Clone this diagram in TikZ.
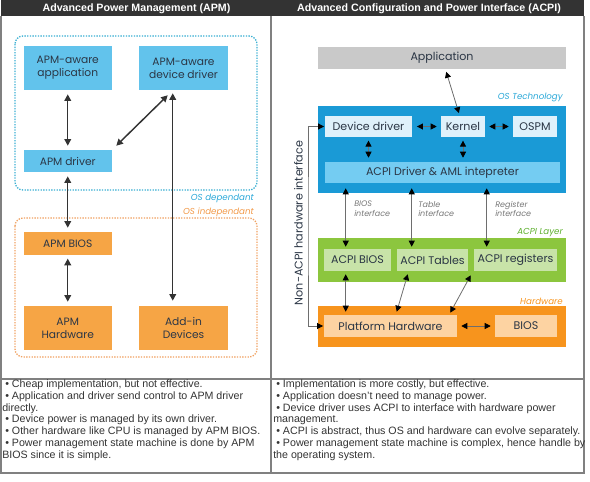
\documentclass[tikz,border=0pt]{standalone}
\usepackage{fontspec}
\setmainfont{Liberation Sans}
\newfontfamily\diag{Poppins}
\usetikzlibrary{arrows.meta}
\definecolor{hdr}{HTML}{333333}
\definecolor{tline}{HTML}{808080}
\definecolor{apmblue}{HTML}{62C3EC}
\definecolor{apmorange}{HTML}{F6A545}
\definecolor{dotcyan}{HTML}{3AAFD2}
\definecolor{dotorange}{HTML}{F0A262}
\definecolor{labcyan}{HTML}{2AA8D8}
\definecolor{laborange}{HTML}{F29A4A}
\definecolor{txtc}{HTML}{2B3645}
\definecolor{appgrey}{HTML}{C9C9C9}
\definecolor{acpiblue}{HTML}{1A9AD6}
\definecolor{ddbox}{HTML}{DFF1FB}
\definecolor{aml}{HTML}{74CCF2}
\definecolor{acpigreen}{HTML}{8CC63E}
\definecolor{greenbox}{HTML}{C8E3A8}
\definecolor{labgreen}{HTML}{5DAF2E}
\definecolor{hworange}{HTML}{F7941D}
\definecolor{hwbox}{HTML}{FDD3A2}
\definecolor{arrc}{HTML}{333333}
\definecolor{garr}{HTML}{6E6E6E}
\definecolor{bodytxt}{HTML}{333333}
\definecolor{itfgrey}{HTML}{777777}
\tikzset{
  pbox/.style n args={4}{at={({(#1+#3)/2},{(#2+#4)/2})},
    minimum width={(#3-#1)*0.75pt}, minimum height={(#4-#2)*0.75pt}},
  box/.style={inner sep=0pt, draw=none, align=center, text=txtc,
    font=\diag\fontsize{8}{9.6}\selectfont},
  abox/.style={box, font=\diag\fontsize{8.3}{9.6}\selectfont},
  region/.style={inner sep=0pt, draw=none},
  hdrtext/.style={text=white, font=\bfseries\fontsize{8}{9}\selectfont},
  apmarrow/.style={{Triangle[length=5pt,width=5pt]}-{Triangle[length=5pt,width=5pt]}, line width=1.1pt, draw=arrc},
  acpiarrow/.style={{Triangle[length=4.5pt,width=4.5pt,color=black]}-{Triangle[length=4.5pt,width=4.5pt,color=black]}, line width=0.6pt, draw=garr},
  layerlabel/.style={anchor=east, inner sep=0pt, font=\diag\itshape\fontsize{6.5}{7.5}\selectfont},
  itflabel/.style={anchor=north west, inner sep=0pt, align=left, text=itfgrey, font=\diag\itshape\fontsize{6}{7}\selectfont},
  bodyline/.style={anchor=west, inner sep=0pt, text=bodytxt, font=\fontsize{8}{9}\selectfont},
  dotframe/.style={line width=1pt, dash pattern=on 1pt off 1pt, rounded corners=6pt}
}
\begin{document}
\begin{tikzpicture}[x=0.75pt,y=-0.75pt]
\useasboundingbox (0,0) rectangle (590,482);
% table
\fill[hdr] (1,0) rectangle (584,16);
\node[hdrtext] (hl) at (136.5,8.5) {Advanced Power Management (APM)};
\node[hdrtext] (hr) at (429,8.5) {Advanced Configuration and Power Interface (ACPI)};
\draw[tline, line width=0.9pt] (1,16) -- (1,473) -- (584,473) -- (584,16);
\draw[tline, line width=0.9pt] (271,16) -- (271,473);
\draw[tline, line width=0.9pt] (1,379) -- (584,379);

% ---------------- APM ----------------
\draw[dotframe, draw=dotcyan] (15,36) rectangle (257,190);
\draw[dotframe, draw=dotorange] (15,218) rectangle (257,357);
\node[box, fill=apmblue, pbox={23.5}{46}{112}{90}] (app) {APM-aware\\application};
\node[box, fill=apmblue, pbox={139}{46}{228}{90}] (devdrv) {APM-aware\\device driver};
\node[box, fill=apmblue, pbox={23.5}{150}{112}{172}] (apmdrv) {APM driver};
\node[layerlabel, text=labcyan] (osdep) at (254,198) {OS dependant};
\node[layerlabel, text=laborange] (osind) at (254,212.5) {OS independant};
\node[box, fill=apmorange, pbox={23.5}{232}{112}{255}] (apmbios) {APM BIOS};
\node[box, fill=apmorange, pbox={23.5}{306}{112}{350}] (apmhw) {APM\\Hardware};
\node[box, fill=apmorange, pbox={139}{306}{228}{350}] (addin) {Add-in\\Devices};

\draw[apmarrow, shorten <=3pt, shorten >=3pt] (app) -- (apmdrv);
\draw[apmarrow] ([shift={(4,-4)}]apmdrv.north east) -- ([shift={(29,5)}]devdrv.south west);
\draw[apmarrow] ([shift={(34,3)}]devdrv.south west) -- ([shift={(34,-5)}]addin.north west);
\draw[apmarrow, shorten <=3pt, shorten >=3pt] (apmdrv) -- (apmbios);
\draw[apmarrow, shorten <=2.5pt, shorten >=3pt] (apmbios) -- (apmhw);

% ---------------- ACPI ----------------
\node[abox, fill=appgrey, pbox={318}{47}{566}{69}] (appl) {Application};
\node[layerlabel, text=labcyan] (ostl) at (563,97) {OS Technology};
\node[region, fill=acpiblue, pbox={318}{106}{566}{193}] (ostech) {};
\node[abox, fill=ddbox, pbox={325}{116}{412}{137}] (ddrv) {Device driver};
\node[abox, fill=ddbox, pbox={441}{116}{485}{137}] (kernel) {Kernel};
\node[abox, fill=ddbox, pbox={513}{116}{557}{137}] (ospm) {OSPM};
\node[abox, fill=aml, pbox={325}{162}{560}{183}] (acpidrv) {ACPI Driver \& AML intepreter};

\node[layerlabel, text=labgreen] (acpil) at (563,233) {ACPI Layer};
\node[region, fill=acpigreen, pbox={318}{238}{566}{282}] (green) {};
\node[abox, fill=greenbox, pbox={324}{249}{391}{271}] (acpibios) {ACPI BIOS};
\node[abox, fill=greenbox, pbox={397}{249}{468}{271}] (acpitab) {ACPI Tables};
\node[abox, fill=greenbox, pbox={474}{249}{557}{271}] (acpireg) {ACPI registers};

\node[layerlabel, text=hworange] (hwl) at (563,301) {Hardware};
\node[region, fill=hworange, pbox={318}{306}{566}{347}] (hw) {};
\node[abox, fill=hwbox, pbox={324}{315}{457}{337}] (plat) {Platform Hardware};
\node[abox, fill=hwbox, pbox={495}{315}{557}{337}] (bios) {BIOS};

\draw[acpiarrow, shorten <=2pt, shorten >=2pt] (appl) -- (kernel);
\draw[acpiarrow, shorten <=3.5pt, shorten >=3pt] (ddrv) -- (kernel);
\draw[acpiarrow, shorten <=3pt, shorten >=3pt] (kernel) -- (ospm);
\draw[acpiarrow, shorten <=2.5pt, shorten >=3pt] (ddrv.south) -- (ddrv.south |- acpidrv.north);
\draw[acpiarrow, shorten <=2.5pt, shorten >=3pt] (kernel) -- (kernel |- acpidrv.north);

\draw[acpiarrow] ([shift={(21,5)}]acpidrv.south west) -- ([shift={(22,-2)}]acpibios.north west);
\draw[acpiarrow] ([shift={(87,5)}]acpidrv.south west) -- ([shift={(15,-2)}]acpitab.north west);
\draw[acpiarrow] ([shift={(162,5)}]acpidrv.south west) -- ([shift={(13,-2)}]acpireg.north west);
\node[itflabel] (bi) at (354,201) {BIOS\\interface};
\node[itflabel] (ti) at (418,201) {Table\\interface};
\node[itflabel] (ri) at (495,201) {Register\\interface};

\draw[acpiarrow] ([shift={(22,3)}]acpibios.south west) -- ([shift={(22,-3)}]plat.north west);
\draw[acpiarrow] ([shift={(11,3)}]acpitab.south west) -- ([shift={(73,-3)}]plat.north west);
\draw[acpiarrow] ([shift={(-3,4)}]acpireg.south west) -- ([shift={(-7,-2)}]plat.north east);
\draw[acpiarrow, shorten <=3pt, shorten >=3pt] (plat) -- (bios);

\coordinate (nac) at (308,226);
\draw[acpiarrow, shorten <=0.5pt, shorten >=0.5pt] (ddrv.west) -| (nac) |- (plat.west);
\node[rotate=90, inner sep=0pt, text=txtc, font=\diag\fontsize{8.4}{9}\selectfont] (nacl) at (298.5,223) {Non-ACPI hardware interface};

% ---------------- text rows ----------------
\node[bodyline] (l1) at (5,384.5) {\textbullet\ Cheap implementation, but not effective.};
\node[bodyline] (l2) at (5,396.5) {\textbullet\ Application and driver send control to APM driver};
\node[bodyline] (l3) at (2,408.3) {directly.};
\node[bodyline] (l4) at (5,420) {\textbullet\ Device power is managed by its own driver.};
\node[bodyline] (l5) at (5,432) {\textbullet\ Other hardware like CPU is managed by APM BIOS.};
\node[bodyline] (l6) at (5,444) {\textbullet\ Power management state machine is done by APM};
\node[bodyline] (l7) at (2,455.7) {BIOS since it is simple.};

\node[bodyline] (r1) at (276,384.5) {\textbullet\ Implementation is more costly, but effective.};
\node[bodyline] (r2) at (276,396.5) {\textbullet\ Application doesn't need to manage power.};
\node[bodyline] (r3) at (276,408.3) {\textbullet\ Device driver uses ACPI to interface with hardware power};
\node[bodyline] (r4) at (273,420) {management.};
\node[bodyline] (r5) at (276,432) {\textbullet\ ACPI is abstract, thus OS and hardware can evolve separately.};
\node[bodyline] (r6) at (276,444) {\textbullet\ Power management state machine is complex, hence handle by};
\node[bodyline] (r7) at (273,455.7) {the operating system.};
\end{tikzpicture}
\end{document}
